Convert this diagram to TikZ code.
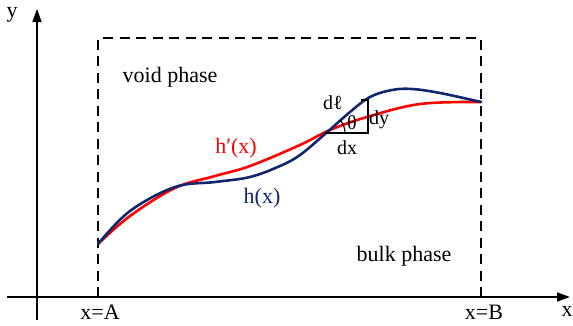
\documentclass[tikz,border=0pt]{standalone}
\usepackage{fontspec}
\setmainfont{Liberation Serif}
\usetikzlibrary{arrows.meta}
\definecolor{hblue}{RGB}{16,38,110}
\definecolor{hred}{RGB}{255,0,0}
\tikzset{
  axis/.style={line width=1.6pt,-{Triangle[length=13pt,width=9pt]}},
  box/.style={line width=2.4pt,dash pattern=on 10pt off 6.5pt},
  curve/.style={line width=2.6pt,line join=round,line cap=round},
  lbl/.style={inner sep=0pt,font=\fontsize{22}{26}\selectfont},
  sml/.style={inner sep=0pt,font=\fontsize{20}{24}\selectfont},
  tri/.style={line width=1.1pt}
}
\begin{document}
\begin{tikzpicture}[x=1pt,y=-1pt]
\useasboundingbox (0,0) rectangle (573,325);
% axes
\coordinate (xs) at (7,297);
\coordinate (xe) at (570,297);
\coordinate (ys) at (37,320);
\coordinate (ye) at (37,9);
\draw[axis] (xs) -- (xe);
\draw[axis] (ys) -- (ye);
\node[lbl] (ylab) at (12,15) {y};
\node[lbl] (xlab) at (567,311) {x};
% dashed box
\coordinate (bA) at (98,297);
\coordinate (tA) at (98,38);
\coordinate (tB) at (481,38);
\coordinate (bB) at (481,297);
\draw[box] (bA) -- (tA) -- (tB) -- (bB);
\node[lbl] (xA) at (100,312) {x=A};
\node[lbl] (xB) at (484,312) {x=B};
\node[lbl] (void) at (170,77) {void phase};
\node[lbl] (bulk) at (404,256) {bulk phase};
% curves
\draw[curve,hred] plot[smooth,tension=0.6] coordinates {(98,244) (130,216) (175,188) (215,176) (250,166) (300,145) (330,130) (367,117) (420,104) (481,102)};
\draw[curve,hblue] plot[smooth,tension=0.6] coordinates {(98,244) (130,211) (175,187) (215,182) (250,177) (280,166) (300,155) (325,134) (350,112) (370,97) (392,90) (412,89) (440,93) (481,102)};
\node[lbl,hred] (hp) at (236,148) {h′(x)};
\node[lbl,hblue] (h) at (262,198) {h(x)};
% triangle
\coordinate (lv) at (325,133);
\coordinate (rv) at (368,133);
\coordinate (tv) at (368,100);
\coordinate (tl) at (361,100);
\draw[tri] (lv) -- (rv) -- (tv) -- (tl);
\draw[tri] ([xshift=20pt]lv) arc[start angle=0,end angle=40,radius=20pt];
\node[sml] (dl) at (333,103) {dℓ};
\node[sml] (th) at (352,123) {θ};
\node[sml] (dy) at (379,120) {dy};
\node[sml] (dx) at (347,148) {dx};
\end{tikzpicture}
\end{document}
